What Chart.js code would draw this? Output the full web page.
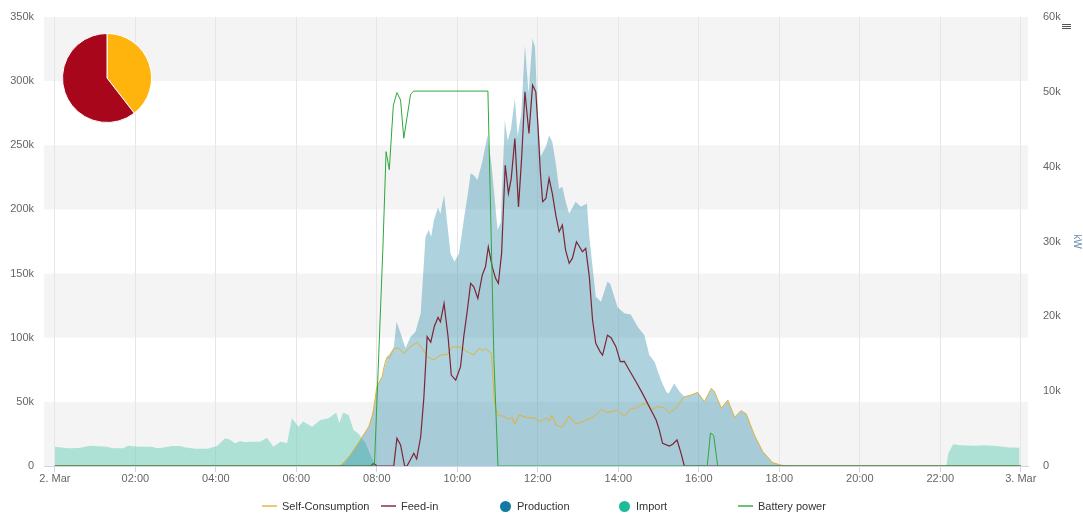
<!DOCTYPE html>
<html>
<head>
<meta charset="utf-8">
<script src="https://cdn.jsdelivr.net/npm/chart.js@4.4.0/dist/chart.umd.min.js"></script>
<style>
  body { margin: 0; background: #fff; font-family: "Liberation Sans", Arial, sans-serif; }
  #wrap { position: relative; width: 1083px; height: 513px; overflow: hidden; }
  #main { position: absolute; left: 0; top: 0; }
  #pie { position: absolute; left: 62px; top: 33px; }
  #legend { position: absolute; left: 262px; top: 498px; display: flex; font-size: 11px; color: #333; }
  #legend .item { width: 119px; height: 16px; display: flex; align-items: center; white-space: nowrap; }
  #legend .line { width: 15px; height: 2px; margin-right: 5px; opacity: 0.7; }
  #legend .dot { width: 11px; height: 11px; border-radius: 50%; margin-right: 6px; }
  #menu { position: absolute; left: 1062px; top: 24px; width: 9px; height: 1px; background: #555;
          box-shadow: 0 2px 0 #555, 0 4px 0 #555; }
</style>
</head>
<body>
<div id="wrap">
  <canvas id="main" width="1083" height="513"></canvas>
  <canvas id="pie" width="90" height="90"></canvas>
  <div id="menu"></div>
  <div id="legend"></div>
</div>
<script>
// x axis: hours of the day, 0 = 2. Mar 00:00
const hourTicks = [0, 2, 4, 6, 8, 10, 12, 14, 16, 18, 20, 22, 24];
const tickLabels = ['2. Mar', '02:00', '04:00', '06:00', '08:00', '10:00', '12:00',
                    '14:00', '16:00', '18:00', '20:00', '22:00', '3. Mar'];

// [hour, value in k] - left axis
const selfConsumption = [
  [0, 0], [7.1, 0], [7.34, 8.6], [7.59, 20.3], [7.8, 30.6], [7.9, 40], [8.0, 61.8], [8.13, 69.6],
  [8.2, 80], [8.26, 85.2], [8.32, 84], [8.42, 91.7], [8.55, 91.7], [8.67, 87.8], [8.84, 93],
  [9.0, 96.4], [9.13, 91.7], [9.25, 85.2], [9.42, 82.6], [9.58, 86.5], [9.75, 87], [9.88, 93],
  [10.08, 92.5], [10.25, 89], [10.41, 86.5], [10.54, 92], [10.62, 90], [10.7, 91.7], [10.79, 89],
  [10.85, 88], [10.92, 50], [11.0, 39.7], [11.16, 38.7], [11.27, 36.5], [11.37, 37.5], [11.43, 32.5],
  [11.53, 39.7], [11.74, 37.8], [11.91, 37.5], [12.07, 34.5], [12.2, 37.5], [12.28, 35], [12.35, 39.7],
  [12.45, 32], [12.61, 30.2], [12.78, 39], [12.94, 32.5], [13.15, 35], [13.4, 38.7], [13.57, 44.2],
  [13.73, 41.6], [13.98, 43.7], [14.15, 38.6], [14.31, 45], [14.44, 45], [14.56, 47.5], [14.69, 49.3],
  [14.81, 43.7], [14.98, 46.3], [15.14, 45.5], [15.27, 41.6], [15.43, 45], [15.64, 54], [15.81, 55.3],
  [15.97, 57.4], [16.14, 50.2], [16.31, 60.5], [16.39, 58], [16.56, 45], [16.72, 51.4], [16.89, 38],
  [17.05, 43.2], [17.18, 40.6], [17.38, 24.2], [17.59, 11.2], [17.84, 2.6], [18.05, 0.6], [18.2, 0], [24, 0]
];

const feedIn = [
  [0, 0], [7.85, 0], [7.93, 2], [8.0, 0], [8.42, 0], [8.5, 21.6], [8.59, 16.4], [8.69, 0], [8.75, 0],
  [8.92, 9.9], [8.99, 5.5], [9.09, 22.8], [9.17, 54], [9.25, 100.8], [9.34, 96.5], [9.43, 109],
  [9.52, 115.8], [9.58, 112.4], [9.67, 126.8], [9.77, 100.8], [9.85, 70.9], [9.96, 67], [10.08, 77.4],
  [10.16, 100.8], [10.25, 121.6], [10.33, 142.4], [10.41, 139.7], [10.51, 130.6], [10.62, 148.8],
  [10.7, 155.3], [10.77, 170.9], [10.87, 155], [10.95, 146.3], [11.02, 142.4], [11.1, 165.7],
  [11.19, 234.5], [11.27, 212.5], [11.34, 224.2], [11.43, 255.3], [11.52, 202], [11.6, 241],
  [11.68, 291.7], [11.78, 259.2], [11.87, 296.9], [11.95, 291.7], [12.01, 261.8], [12.06, 230.6],
  [12.12, 206], [12.2, 208.5], [12.28, 224.2], [12.36, 212.5], [12.45, 195], [12.53, 182.6],
  [12.61, 187.8], [12.69, 168.3], [12.78, 158], [12.86, 162], [12.96, 174.8], [13.11, 167],
  [13.19, 169.6], [13.28, 147.5], [13.36, 113.8], [13.44, 95.6], [13.55, 89], [13.61, 86.5],
  [13.73, 102], [13.82, 100], [13.94, 93], [14.05, 81.3], [14.15, 81.5], [14.27, 74.8], [14.44, 65.7],
  [14.6, 56.6], [14.77, 46.2], [14.94, 35.8], [15.02, 28], [15.1, 17.7], [15.27, 15.6], [15.35, 17],
  [15.46, 20.3], [15.56, 9.9], [15.64, 0], [24, 0]
];

const production = [
  [0, 0], [7.05, 0], [7.2, 3], [7.34, 8.6], [7.59, 20.3], [7.8, 30.6], [7.92, 45], [8.0, 61], [8.13, 69.6],
  [8.26, 85.2], [8.42, 92], [8.49, 112.4], [8.59, 103.4], [8.71, 92], [8.84, 100.8], [8.96, 104.7],
  [9.09, 119], [9.21, 178.7], [9.29, 183.9], [9.35, 178.7], [9.42, 191.7], [9.52, 201.6], [9.58, 196.9],
  [9.67, 211.2], [9.75, 189.1], [9.83, 165.7], [9.93, 159.2], [10.04, 165.7], [10.16, 191.7],
  [10.25, 209.9], [10.33, 228], [10.41, 226.7], [10.5, 222.9], [10.62, 237.1], [10.75, 257.9],
  [10.85, 235], [11.0, 184], [11.08, 190], [11.18, 269.6], [11.25, 254], [11.33, 262], [11.43, 286.5],
  [11.5, 257], [11.59, 275], [11.68, 328], [11.77, 290.4], [11.87, 333.3], [11.93, 326.7], [11.99, 280],
  [12.07, 241], [12.2, 248.8], [12.28, 257.9], [12.36, 252.7], [12.45, 235], [12.53, 216],
  [12.61, 217.6], [12.7, 205], [12.78, 196.9], [12.94, 205.9], [13.07, 202], [13.22, 204.6],
  [13.28, 178.7], [13.44, 132], [13.57, 128], [13.73, 143.6], [13.8, 142], [13.98, 124], [14.15, 119],
  [14.31, 118], [14.48, 108.6], [14.65, 102], [14.77, 86.5], [14.9, 81.3], [15.06, 67], [15.19, 57.9],
  [15.25, 56.6], [15.39, 64.4], [15.52, 58], [15.64, 54], [15.81, 55.3], [15.97, 57.4], [16.14, 50.2],
  [16.31, 60.5], [16.39, 58], [16.56, 45], [16.72, 51.4], [16.89, 38], [17.05, 43.2], [17.18, 40.6],
  [17.38, 24.2], [17.59, 11.2], [17.84, 2.6], [18.05, 0.6], [18.2, 0], [24, 0]
];

const importGrid = [
  [0, 15], [0.33, 13.8], [0.6, 14], [0.87, 15.8], [1.29, 15], [1.45, 13.8], [1.7, 13.8], [1.82, 15.8],
  [2.1, 15], [2.4, 15], [2.55, 13.8], [2.7, 14.5], [2.9, 15.5], [3.1, 15.5], [3.25, 14.5], [3.5, 13.5],
  [3.8, 13.5], [4.03, 15.6], [4.23, 21.6], [4.35, 20.5], [4.48, 17.7], [4.6, 19.5], [4.72, 18.5],
  [4.85, 19], [5.1, 19], [5.27, 22], [5.43, 15], [5.6, 19], [5.77, 18], [5.89, 37.2], [6.05, 30.6],
  [6.17, 34.6], [6.39, 30.6], [6.6, 35.8], [6.8, 37.2], [6.99, 41.6], [7.07, 33.3], [7.16, 41.8],
  [7.3, 39.8], [7.42, 28], [7.55, 25], [7.72, 17.7], [7.85, 8], [7.97, 0], [22.15, 0], [22.2, 10],
  [22.32, 17], [22.5, 16.2], [22.85, 15.8], [23.1, 16.2], [23.4, 15.5], [23.7, 14.5], [23.97, 14.2]
];

// [hour, value in k] - right axis (kW)
const batteryPower = [
  [0, 0], [7.85, 0], [7.9, 0.4], [7.94, 0], [8.15, 29], [8.23, 42], [8.31, 39.6], [8.41, 48.2],
  [8.5, 49.9], [8.59, 48.9], [8.67, 43.8], [8.84, 49.7], [8.92, 50.1], [10.76, 50.1], [10.91, 14.2],
  [11.01, 0], [16.21, 0], [16.29, 4.4], [16.37, 4.1], [16.47, 0], [24, 0]
];

// share of self-consumption vs feed-in (%)
const pieLabels = ['Self-Consumption', 'Feed-in'];
const pieShares = [39.5, 60.5];

const tickFont = { family: '"Liberation Sans", Arial, sans-serif', size: 11 };

// alternating grey bands between left-axis ticks
const bandsPlugin = {
  id: 'bands',
  beforeDraw(chart) {
    const { ctx, chartArea: a, scales: { y } } = chart;
    ctx.save();
    ctx.fillStyle = '#f4f4f4';
    for (let i = 0; i < y.ticks.length - 1; i += 2) {
      const y0 = y.getPixelForValue(y.ticks[i].value);
      const y1 = y.getPixelForValue(y.ticks[i + 1].value);
      ctx.fillRect(a.left, y1, a.right - a.left, y0 - y1);
    }
    ctx.restore();
  }
};

const chart = new Chart(document.getElementById('main'), {
  type: 'line',
  data: {
    datasets: [
      { label: 'Self-Consumption', data: selfConsumption, borderColor: '#e3b237', borderWidth: 1,
        fill: false, yAxisID: 'y', order: 2 },
      { label: 'Feed-in', data: feedIn, borderColor: '#7c2536', borderWidth: 1.2,
        fill: false, yAxisID: 'y', order: 1 },
      { label: 'Production', data: production, borderColor: '#127ba2', borderWidth: 0,
        backgroundColor: 'rgba(23,127,160,0.35)', fill: 'origin', yAxisID: 'y', order: 5 },
      { label: 'Import', data: importGrid, borderColor: '#1dbb98', borderWidth: 0,
        backgroundColor: 'rgba(31,189,154,0.33)', fill: 'origin', yAxisID: 'y', order: 6 },
      { label: 'Battery power', data: batteryPower, borderColor: '#2ea83c', borderWidth: 1,
        fill: false, yAxisID: 'y1', order: 0 }
    ]
  },
  options: {
    responsive: false,
    animation: false,
    layout: { padding: { top: 17, left: 0, right: 0, bottom: 0 } },
    elements: { point: { radius: 0, hoverRadius: 0 }, line: { tension: 0 } },
    plugins: { legend: { display: false }, tooltip: { enabled: false } },
    scales: {
      x: {
        type: 'linear', min: -0.27, max: 24.18,
        afterBuildTicks: (s) => { s.ticks = hourTicks.map(v => ({ value: v })); },
        afterFit: (s) => { s.height = 47; },
        ticks: { autoSkip: false, maxRotation: 0, color: '#666', font: tickFont, padding: 0,
                 callback: (v, i) => tickLabels[i] },
        grid: { color: '#e6e6e6', tickColor: '#ccd6eb', tickLength: 6 },
        border: { color: '#ccd6eb' }
      },
      y: {
        position: 'left', min: 0, max: 350,
        afterFit: (s) => { s.width = 44; },
        ticks: { stepSize: 50, color: '#666', font: tickFont, padding: 0,
                 callback: (v) => v === 0 ? '0' : v + 'k' },
        grid: { display: false, drawTicks: true, tickLength: 10 },
        border: { display: false }
      },
      y1: {
        position: 'right', min: 0, max: 60,
        afterFit: (s) => { s.width = 55; },
        ticks: { stepSize: 10, color: '#666', font: tickFont, padding: 0,
                 callback: (v) => v === 0 ? '0' : v + 'k' },
        grid: { display: false, drawTicks: true, tickLength: 15 },
        border: { display: false },
        title: { display: true, text: 'kW', color: '#6f8fae', font: { size: 10 }, padding: 0 }
      }
    }
  },
  plugins: [bandsPlugin]
});

new Chart(document.getElementById('pie'), {
  type: 'pie',
  data: {
    labels: pieLabels,
    datasets: [{ data: pieShares, backgroundColor: ['#feb40d', '#a8061b'], borderColor: '#fff', borderWidth: 1 }]
  },
  options: {
    responsive: false,
    animation: false,
    plugins: { legend: { display: false }, tooltip: { enabled: false } }
  }
});

// legend below the chart, fixed-width items
const legend = document.getElementById('legend');
chart.data.datasets.forEach((ds) => {
  const item = document.createElement('div');
  item.className = 'item';
  const sym = document.createElement('span');
  sym.className = ds.fill ? 'dot' : 'line';
  sym.style.background = ds.borderColor;
  const txt = document.createElement('span');
  txt.textContent = ds.label;
  item.appendChild(sym);
  item.appendChild(txt);
  legend.appendChild(item);
});
</script>
</body>
</html>
